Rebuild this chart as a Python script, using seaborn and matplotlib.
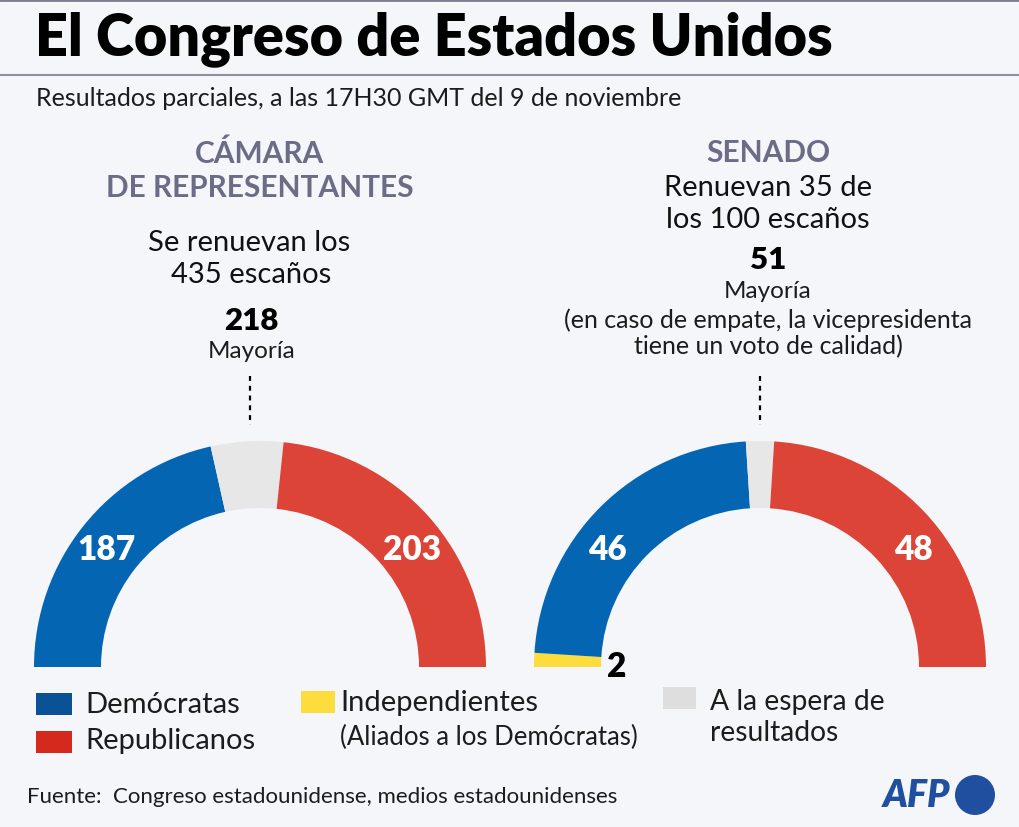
import matplotlib
matplotlib.use("Agg")
import matplotlib.pyplot as plt
from matplotlib.patches import Rectangle, Circle
import seaborn as sns

# data
house_parties = ['Demócratas', 'A la espera', 'Republicanos']
house_seats = [187, 45, 203]
senate_parties = ['Independientes', 'Demócratas', 'A la espera', 'Republicanos']
senate_seats = [2, 46, 4, 48]
house_majority = 218
senate_majority = 51

colors = {'Demócratas': '#0466b2', 'Republicanos': '#dc4437',
          'Independientes': '#fddd3d', 'A la espera': '#e7e7e8'}
legend_colors = {'Demócratas': '#0a5295', 'Republicanos': '#d42a1e',
                 'Independientes': '#fddd3d', 'A la espera': '#dedede'}

BG = '#f5f6fa'
sns.set_theme(style='white', rc={'figure.facecolor': BG, 'axes.facecolor': BG})
plt.rcParams['font.family'] = ['Lato', 'DejaVu Sans']

fig = plt.figure(figsize=(10.2, 8.28), dpi=100)
ax = fig.add_axes([0, 0, 1, 1])


def half_donut(ax, seats, parties, cx, cy, r, w):
    total = sum(seats)
    vals = list(seats) + [total]
    cols = [colors[p] for p in parties] + ['none']
    # y axis is inverted, so counterclock in data = clockwise on screen
    ax.pie(vals, colors=cols, startangle=180, counterclock=True,
           radius=r, center=(cx, cy), frame=True,
           wedgeprops=dict(width=w, linewidth=0))


half_donut(ax, house_seats, house_parties, 260, 668, 226, 67)
half_donut(ax, senate_seats, senate_parties, 760, 668, 226, 67)

ax.set_xlim(0, 1020)
ax.set_ylim(828, 0)
ax.set_aspect('auto')
ax.axis('off')

TXT = '#1c1c1c'

# header
ax.plot([0, 1020], [1, 1], color='#7d7d8f', lw=2)
ax.plot([0, 1020], [76, 76], color='#8e8e9c', lw=1.5)
ax.text(35, 39, 'El Congreso de Estados Unidos', fontsize=41.5, fontweight='heavy',
        va='center', ha='left', color='black')
ax.text(36, 99, 'Resultados parciales, a las 17H30 GMT del 9 de noviembre',
        fontsize=18, va='center', ha='left', color=TXT)

# chamber titles
head = '#6a6d85'
ax.text(260, 154, 'CÁMARA', fontsize=21.5, fontweight='bold', color=head, ha='center', va='center')
ax.text(260, 188, 'DE REPRESENTANTES', fontsize=21.5, fontweight='bold', color=head, ha='center', va='center')
ax.text(768, 153, 'SENADO', fontsize=21.5, fontweight='bold', color=head, ha='center', va='center')

ax.text(249, 243, 'Se renuevan los', fontsize=21, color='#111111', ha='center', va='center')
ax.text(251, 275, '435 escaños', fontsize=21, color='#111111', ha='center', va='center')
ax.text(251, 321, str(house_majority), fontsize=22.5, fontweight='heavy', color='black', ha='center', va='center')
ax.text(252, 352, 'Mayoría', fontsize=17.5, color=TXT, ha='center', va='center')

ax.text(768, 188, 'Renuevan 35 de', fontsize=21, color='#111111', ha='center', va='center')
ax.text(768, 220, 'los 100 escaños', fontsize=21, color='#111111', ha='center', va='center')
ax.text(768, 260, str(senate_majority), fontsize=22.5, fontweight='heavy', color='black', ha='center', va='center')
ax.text(768, 292, 'Mayoría', fontsize=17.5, color=TXT, ha='center', va='center')
ax.text(768, 320, '(en caso de empate, la vicepresidenta', fontsize=18,
        color=TXT, ha='center', va='center')
ax.text(768, 347, 'tiene un voto de calidad)', fontsize=18,
        color=TXT, ha='center', va='center')

# majority markers
ax.plot([250, 250], [377, 426], color='black', lw=1.6, ls=(0, (2.2, 2.2)))
ax.plot([760, 760], [377, 426], color='black', lw=1.6, ls=(0, (2.2, 2.2)))

# seat labels
lab = dict(fontsize=24, fontweight='heavy', color='white', ha='center', va='center')
ax.text(107, 550, str(house_seats[0]), **lab)
ax.text(412, 550, str(house_seats[2]), **lab)
ax.text(607, 550, str(senate_seats[1]), **lab)
ax.text(913, 550, str(senate_seats[3]), **lab)
ax.text(617, 667, str(senate_seats[0]), fontsize=24, fontweight='heavy', color='black',
        ha='center', va='center')

# legend
def legend_box(x, y, w, h, c):
    ax.add_patch(Rectangle((x, y), w, h, facecolor=c, edgecolor='none'))

lt = dict(fontsize=21, color=TXT, va='center', ha='left')
legend_box(36, 694, 36, 22, legend_colors['Demócratas'])
ax.text(85, 705, 'Demócratas', **lt)
legend_box(36, 732, 36, 22, legend_colors['Republicanos'])
ax.text(85, 741, 'Republicanos', **lt)
legend_box(301, 692, 34, 22, legend_colors['Independientes'])
ax.text(340, 703, 'Independientes', **lt)
ax.text(340, 737, '(Aliados a los Demócratas)', fontsize=18.5,
        color=TXT, va='center', ha='left')
legend_box(663, 688, 33, 22, legend_colors['A la espera'])
ax.text(710, 702, 'A la espera de', fontsize=20.3, color=TXT, va='center', ha='left')
ax.text(710, 733, 'resultados', fontsize=20.3, color=TXT, va='center', ha='left')

ax.text(27, 797, 'Fuente:  Congreso estadounidense, medios estadounidenses',
        fontsize=16, color=TXT, va='center', ha='left')

# AFP logo
ax.text(917, 796, 'AFP', fontsize=27, fontweight='heavy', style='italic', color='#1f4f9e',
        va='center', ha='center')
ax.add_patch(Circle((975, 796), 20, facecolor='#1f4f9e', edgecolor='none'))

fig.savefig('out.png', dpi=100, facecolor=BG)
